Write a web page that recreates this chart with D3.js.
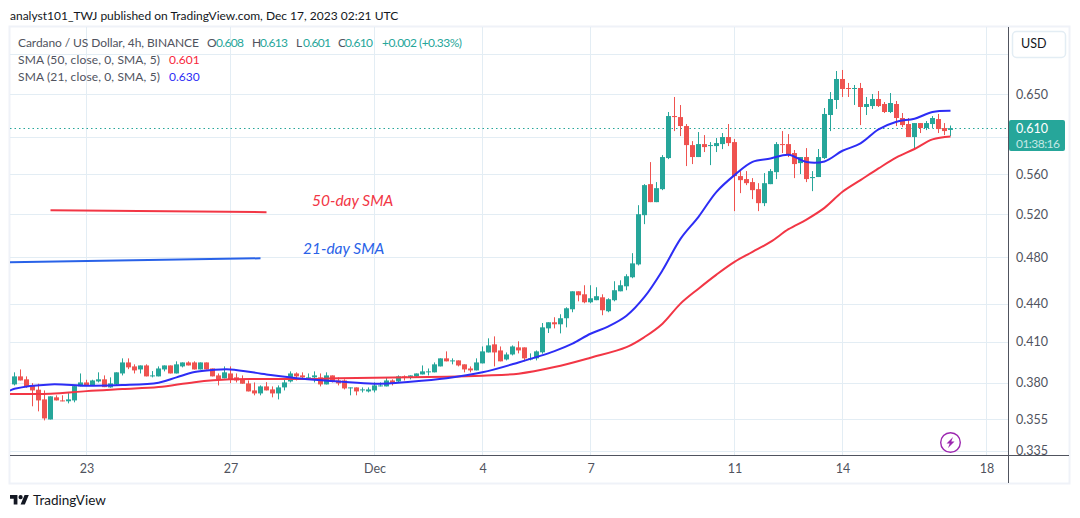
<!DOCTYPE html>
<html><head><meta charset="utf-8">
<script src="https://cdn.jsdelivr.net/npm/d3@7"></script>
<style>
html,body{margin:0;padding:0;background:#fff;overflow:hidden}
svg{display:block}
text{font-family:"Lato",sans-serif}
</style></head><body>
<svg id="c" width="1080" height="518"></svg>
<script>
const startDate = new Date(Date.UTC(2023,10,21));
const candleHours = 4;
const opens = [
.3788,.3845,.3824,.3781,.3751,.3684,.3549,.3698,.3677,.3671,
.3677,.3774,.3802,.3783,.3809,.3824,.3767,.3788,.3866,.3946,
.3917,.3895,.3924,.3845,.3845,.3895,.3924,.3866,.3917,.3946,
.3946,.3895,.3946,.3902,.3852,.3831,.3866,.3838,.3824,.3795,
.3746,.3725,.3774,.3753,.3725,.3767,.3809,.3866,.3852,.3831,
.3838,.3838,.3788,.3852,.3816,.3816,.3760,.3767,.3746,.3739,
.3746,.3776,.3774,.3816,.3809,.3845,.3838,.3845,.3859,.3874,
.3874,.3917,.3976,.3954,.3961,.3932,.3902,.3888,.3939,.4020,
.4081,.4035,.3968,.4005,.4058,.4058,.3968,.3976,.4021,.4204,
.4252,.4236,.4284,.4356,.4504,.4479,.4413,.4430,.4454,.4340,
.4430,.4504,.4546,.4623,.4735,.5189,.5497,.5316,.5446,.5770,
.6239,.6227,.6124,.5911,.5781,.5922,.5900,.5900,.5922,.6000,
.5944,.5580,.5549,.5518,.5446,.5306,.5497,.5621,.5922,.5922,
.5824,.5716,.5781,.5559,.5570,.5770,.6251,.6428,.6684,.6573,
.6561,.6573,.6345,.6356,.6440,.6380,.6286,.6380,.6216,.6147,
.6000,.6158,.6101,.6147,.6204,.6101,.608];
const highs = [
.3874,.3895,.3845,.3797,.3793,.3746,.3705,.3712,.3712,.3727,
.3781,.3866,.3821,.3821,.3874,.3852,.3838,.3874,.3976,.3976,
.3932,.3924,.3932,.3883,.3917,.3924,.3924,.3954,.3946,.3954,
.3954,.3946,.3946,.3902,.3866,.3917,.3917,.3866,.3852,.3816,
.3802,.3781,.3804,.3774,.3781,.3821,.3881,.3874,.3874,.3866,
.3881,.3866,.3874,.3852,.3838,.3824,.3767,.3767,.3767,.3767,
.3802,.3802,.3838,.3824,.3852,.3852,.3852,.3866,.3924,.3902,
.3946,.3976,.4028,.3976,.3961,.3932,.3917,.3976,.4065,.4127,
.4142,.4065,.4020,.4073,.4104,.4058,.4013,.4035,.4246,.4252,
.4292,.4316,.4372,.4504,.4504,.4555,.4555,.4538,.4479,.4446,
.4589,.4597,.4649,.4835,.5286,.5497,.5727,.5518,.5802,.6286,
.6464,.6368,.6147,.5955,.6056,.6022,.5944,.5989,.6045,.6147,
.5978,.5632,.5632,.5559,.5507,.5611,.5653,.5944,.6067,.6033,
.5857,.5781,.5878,.5632,.5868,.6333,.6524,.6784,.6797,.6635,
.6610,.6635,.6464,.6500,.6536,.6404,.6512,.6416,.6274,.6216,
.6158,.6158,.6181,.6239,.6263,.6158,.613];
const lows = [
.3781,.3816,.3765,.3637,.3603,.3543,.3549,.3677,.3671,.3657,
.3664,.3774,.3776,.3781,.3802,.3769,.3765,.3781,.3852,.3897,
.3866,.3866,.3845,.3838,.3845,.3881,.3866,.3866,.3910,.3924,
.3895,.3895,.3895,.3845,.3781,.3831,.3797,.3802,.3793,.3739,
.3712,.3712,.3746,.3698,.3684,.3746,.3802,.3816,.3824,.3824,
.3802,.3774,.3788,.3802,.3781,.3753,.3712,.3712,.3732,.3732,
.3732,.3774,.3774,.3781,.3802,.3816,.3824,.3838,.3859,.3852,
.3874,.3917,.3954,.3932,.3917,.3874,.3874,.3888,.3939,.4020,
.3917,.3954,.3961,.3998,.4013,.3954,.3961,.3961,.4011,.4168,
.4204,.4165,.4212,.4332,.4421,.4405,.4405,.4430,.4308,.4332,
.4421,.4504,.4513,.4615,.4726,.5103,.5316,.5316,.5436,.5759,
.6067,.6011,.5685,.5706,.5781,.5835,.5695,.5835,.5867,.5900,
.5228,.5406,.5487,.5346,.5228,.5277,.5497,.5549,.5824,.5781,
.5559,.5601,.5518,.5426,.5570,.5759,.6067,.6322,.6464,.6464,
.6369,.6135,.6251,.6322,.6345,.6274,.6274,.6124,.6112,.6000,
.5868,.6045,.6078,.6101,.6045,.6022,.601];
const closes = [
.3845,.3816,.3770,.3746,.3677,.3556,.3705,.3677,.3671,.3684,
.3776,.3802,.3783,.3816,.3824,.3769,.3795,.3874,.3946,.3910,
.3888,.3924,.3845,.3852,.3902,.3924,.3866,.3932,.3946,.3924,
.3895,.3946,.3895,.3845,.3824,.3874,.3824,.3816,.3793,.3739,
.3725,.3774,.3746,.3725,.3767,.3802,.3866,.3845,.3838,.3838,
.3852,.3788,.3852,.3809,.3795,.3760,.3767,.3739,.3753,.3753,
.3781,.3781,.3816,.3795,.3845,.3838,.3852,.3866,.3881,.3881,
.3932,.3976,.3954,.3961,.3924,.3895,.3888,.3946,.4028,.4073,
.4020,.3954,.4005,.4065,.4035,.3976,.3976,.4028,.4212,.4252,
.4236,.4284,.4364,.4504,.4471,.4413,.4446,.4463,.4348,.4438,
.4513,.4555,.4632,.4744,.5198,.5487,.5316,.5456,.5781,.6239,
.6227,.6124,.5911,.5781,.5922,.5889,.5911,.5933,.6000,.5933,
.5580,.5538,.5507,.5436,.5306,.5507,.5632,.5922,.5911,.5802,
.5706,.5781,.5549,.5570,.5781,.6263,.6440,.6684,.6561,.6561,
.6573,.6345,.6380,.6440,.6356,.6286,.6392,.6216,.6135,.6000,
.6158,.6101,.6158,.6216,.6090,.6067,.610];

const sma21Steps = [-1,0,6,12,18,24,27,30,33,36,42,48,54,60,66,72,78,84,90,93,96,99,102,105,108,111,114,117,120,123,126,129,132,135,138,141,144,147,150,153,156];
const sma21Values = [.3740,.3757,.3788,.3779,.3783,.3800,.3838,.3876,.3891,.3895,.3859,.3828,.3809,.3793,.3807,.3831,.3874,.3946,.4030,.4086,.4162,.4220,.4304,.4457,.4683,.4965,.5173,.5419,.5590,.5730,.5765,.5806,.5727,.5734,.5849,.5929,.6086,.6174,.6208,.6286,.6300];
const sma50Steps = [-1,6,12,18,24,30,36,42,48,54,60,66,72,78,84,90,96,102,105,108,111,114,117,120,123,126,129,132,135,138,141,144,147,150,153,156];
const sma50Values = [.3722,.3722,.3741,.3755,.3769,.3804,.3824,.3826,.3826,.3831,.3835,.3838,.3842,.3850,.3864,.3912,.3981,.4060,.4137,.4241,.4402,.4526,.4646,.4757,.4846,.4937,.5055,.5147,.5260,.5419,.5538,.5660,.5777,.5868,.5974,.6007];

const gridPrices = [.7,.65,.6,.56,.52,.48,.44,.41,.38,.355,.335];
const labelPrices = [.65,.56,.52,.48,.44,.41,.38,.355,.335];
const dateTicks = [[2023,10,23],[2023,10,27],[2023,11,1],[2023,11,4],[2023,11,7],[2023,11,11],[2023,11,14],[2023,11,18]].map(a=>new Date(Date.UTC(a[0],a[1],a[2])));
const dateLabels = ["23","27","Dec","4","7","11","14","18"];
const lastPrice = .610;
const countdown = "01:38:16";
const titleText = "analyst101_TWJ published on TradingView.com, Dec 17, 2023 02:21 UTC";
const legendOhlc = [["O","0.608"],["H","0.613"],["L","0.601"],["C","0.610"]];
const annoRedSteps = [6,42], annoRedValues = [.5237,.5218];
const annoBlueSteps = [-1,41], annoBlueValues = [.4754,.4789];

const C = {green:"#26a69a",red:"#ef5350",sma21:"#2d2df5",sma50:"#f23645",grid:"#e3edf4",frame:"#eff2f8",axis:"#50535e",text:"#50535e",ink:"#131722"};
const P = {l:10,r:1008,t:27,b:455};
const FS = 12;

const svg = d3.select("#c");
svg.append("rect").attr("width",1080).attr("height",518).attr("fill","#fff");

const stepDate = k => d3.utcHour.offset(startDate,candleHours*k);
const x = d3.scaleUtc().domain([startDate,new Date(Date.UTC(2023,11,18))]).range([14.5,986.5]);
const y = d3.scaleLog().domain([.65,.335]).range([94,450.5]);
const yr = p => Math.round(y(p));

// frame
svg.append("rect").attr("x",9.5).attr("y",26.5).attr("width",1060).attr("height",457).attr("fill","none").attr("stroke",C.frame).attr("stroke-width",2);

// grid
const grid = svg.append("g");
grid.selectAll("line.h").data(gridPrices).join("line").attr("class","h")
  .attr("x1",P.l).attr("x2",P.r).attr("y1",d=>yr(d)+.5).attr("y2",d=>yr(d)+.5).attr("stroke",C.grid);
grid.selectAll("line.v").data(dateTicks).join("line").attr("class","v")
  .attr("x1",d=>x(d)).attr("x2",d=>x(d)).attr("y1",P.t).attr("y2",P.b).attr("stroke",C.grid);

svg.append("clipPath").attr("id","plot").append("rect").attr("x",P.l).attr("y",P.t).attr("width",P.r-P.l).attr("height",P.b-P.t);
const plot = svg.append("g").attr("clip-path","url(#plot)");

// last price dotted line
plot.append("line").attr("x1",P.l).attr("x2",P.r).attr("y1",yr(lastPrice)+.5).attr("y2",yr(lastPrice)+.5)
  .attr("stroke",C.green).attr("stroke-dasharray","1.5 3");

// candles
const candles = d3.range(opens.length).map(i=>({t:stepDate(i),o:opens[i],h:highs[i],l:lows[i],c:closes[i]}));
const color = d=>d.c>=d.o?C.green:C.red;
plot.append("g").selectAll("rect").data(candles).join("rect")
  .attr("x",d=>x(d.t)-.5).attr("width",1)
  .attr("y",d=>y(d.h)).attr("height",d=>y(d.l)-y(d.h)).attr("fill",color);
plot.append("g").selectAll("rect").data(candles).join("rect")
  .attr("x",d=>x(d.t)-2.5).attr("width",5)
  .attr("y",d=>Math.min(y(d.o),y(d.c))).attr("height",d=>Math.max(1,Math.abs(y(d.o)-y(d.c)))).attr("fill",color);

// SMA lines
const line = d3.line().x(d=>x(stepDate(d[0]))).y(d=>y(d[1])).curve(d3.curveCatmullRom.alpha(.5));
const zip = (a,b)=>a.map((v,i)=>[v,b[i]]);
plot.append("path").attr("d",line(zip(sma50Steps,sma50Values))).attr("fill","none").attr("stroke",C.sma50).attr("stroke-width",2);
plot.append("path").attr("d",line(zip(sma21Steps,sma21Values))).attr("fill","none").attr("stroke",C.sma21).attr("stroke-width",2);

// annotations
const straight = d3.line().x(d=>x(stepDate(d[0]))).y(d=>y(d[1]));
plot.append("path").attr("d",straight(zip(annoRedSteps,annoRedValues))).attr("fill","none").attr("stroke",C.sma50).attr("stroke-width",2);
plot.append("path").attr("d",straight(zip(annoBlueSteps,annoBlueValues))).attr("fill","none").attr("stroke","#2962e8").attr("stroke-width",2);
svg.append("text").attr("x",312).attr("y",206).attr("font-size",15.5).attr("font-style","italic").attr("fill",C.sma50).text("50-day SMA");
svg.append("text").attr("x",303).attr("y",254).attr("font-size",15.5).attr("font-style","italic").attr("fill","#2962e8").text("21-day SMA");

// price axis
svg.append("clipPath").attr("id","pa").append("rect").attr("x",0).attr("y",P.t).attr("width",70).attr("height",P.b-P.t);
const yAxis = svg.append("g").attr("clip-path","url(#pa)").attr("transform",`translate(${P.r},0)`)
  .call(d3.axisRight(y).tickValues(labelPrices).tickFormat(d3.format(".3f")).tickSize(0).tickPadding(8));
yAxis.select(".domain").remove();
yAxis.selectAll("text").attr("font-size",12.5).attr("fill",C.text).style("font-family",'"Lato",sans-serif');

// time axis
const xAxis = svg.append("g").attr("transform",`translate(0,${P.b})`)
  .call(d3.axisBottom(x).tickValues(dateTicks).tickFormat((d,i)=>dateLabels[i]).tickSize(0).tickPadding(9));
xAxis.select(".domain").remove();
xAxis.selectAll("text").attr("font-size",12.5).attr("fill",C.text).style("font-family",'"Lato",sans-serif');

svg.append("line").attr("x1",P.l).attr("x2",1069).attr("y1",P.b+.5).attr("y2",P.b+.5).attr("stroke",C.axis);
svg.append("line").attr("x1",P.r+.5).attr("x2",P.r+.5).attr("y1",P.t).attr("y2",483).attr("stroke",C.axis);

// last price badge
svg.append("rect").attr("x",P.r+1).attr("y",yr(lastPrice)-8).attr("width",56).attr("height",31).attr("rx",2).attr("fill",C.green);
svg.append("text").attr("x",1016).attr("y",yr(lastPrice)+5).attr("font-size",12.5).attr("fill","#fff").text(d3.format(".3f")(lastPrice));
svg.append("text").attr("x",1016).attr("y",yr(lastPrice)+20).attr("font-size",12).attr("textLength",44).attr("lengthAdjust","spacing").attr("fill","#c4e8e4").text(countdown);

// currency button
svg.append("rect").attr("x",1012.5).attr("y",31.5).attr("width",53).attr("height",26).attr("rx",4).attr("fill","#fff").attr("stroke",C.grid).attr("stroke-width",1.5);
svg.append("text").attr("x",1021).attr("y",48).attr("font-size",12.5).attr("fill",C.ink).text("USD");

// title + legend
svg.append("text").attr("x",10).attr("y",19.5).attr("font-size",FS).attr("fill",C.ink).text(titleText);
svg.append("text").attr("x",18).attr("y",46.5).attr("font-size",FS).attr("textLength",181).attr("lengthAdjust","spacing").attr("fill",C.text).text("Cardano / US Dollar, 4h, BINANCE");
const ohlcX = [207,252,296,338], ohlcV = [216,260,303,345];
legendOhlc.forEach((d,i)=>{
  svg.append("text").attr("x",ohlcX[i]).attr("y",46.5).attr("font-size",FS).attr("fill",C.text).text(d[0]);
  svg.append("text").attr("x",ohlcV[i]).attr("y",46.5).attr("font-size",FS).attr("textLength",28).attr("lengthAdjust","spacing").attr("fill",C.green).text(d[1]);
});
svg.append("text").attr("x",382).attr("y",46.5).attr("font-size",FS).attr("textLength",80).attr("lengthAdjust","spacing").attr("fill",C.green).text("+0.002 (+0.33%)");
svg.append("text").attr("x",18).attr("y",63.5).attr("font-size",FS).attr("textLength",142).attr("lengthAdjust","spacing").attr("fill",C.text).text("SMA (50, close, 0, SMA, 5)");
svg.append("text").attr("x",169).attr("y",63.5).attr("font-size",FS).attr("fill","#f7263c").text(d3.format(".3f")(sma50Values[sma50Values.length-1]));
svg.append("text").attr("x",18).attr("y",80.5).attr("font-size",FS).attr("textLength",142).attr("lengthAdjust","spacing").attr("fill",C.text).text("SMA (21, close, 0, SMA, 5)");
svg.append("text").attr("x",169).attr("y",80.5).attr("font-size",FS).attr("fill","#2d2df5").text(d3.format(".3f")(sma21Values[sma21Values.length-1]));

// lightning badge
const bolt = svg.append("g").attr("transform","translate(950.5,442.5)");
bolt.append("circle").attr("r",9.8).attr("fill","#fff").attr("stroke","#9c27b0").attr("stroke-width",1.4);
bolt.append("path").attr("d","M2.5,-5.5 L-4,1 L-0.8,1 L-2.5,5.5 L4,-1 L0.8,-1 Z").attr("fill","#9c27b0");

// TradingView logo
svg.append("g").attr("transform","translate(10,492.9) scale(.53)").append("path")
  .attr("d","M14 22H7V11H0V4h14v18zM28 22h-8l7.5-18h8L28 22zM20 4a4 4 0 1 1 0 8 4 4 0 0 1 0-8z").attr("fill",C.ink);
svg.append("text").attr("x",33).attr("y",505).attr("font-size",13.5).attr("fill",C.ink).text("TradingView");
</script>
</body></html>
